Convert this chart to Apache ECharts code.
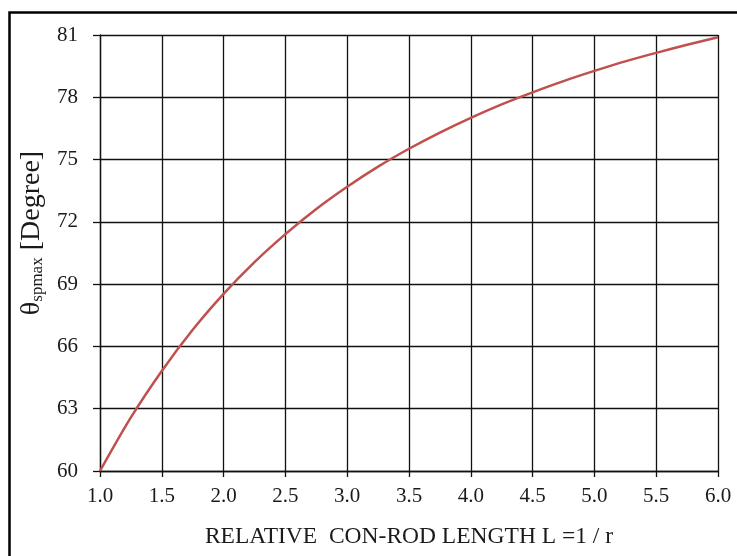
<!DOCTYPE html>
<html>
<head>
<meta charset="utf-8">
<script src="https://cdn.jsdelivr.net/npm/echarts@6/dist/echarts.min.js"></script>
<style>
  html, body { margin: 0; padding: 0; background: #fff; }
  #chart { width: 737px; height: 556px; }
</style>
</head>
<body>
<div id="chart"></div>
<script>
// Relative con-rod length L = l / r
const rodLength = [1.0, 1.25, 1.5, 1.75, 2.0, 2.25, 2.5, 2.75, 3.0, 3.25, 3.5,
                   3.75, 4.0, 4.25, 4.5, 4.75, 5.0, 5.25, 5.5, 5.75, 6.0];
// Crank angle of maximum piston speed, degrees
const thetaSpMax = [60.0, 62.58, 64.82, 66.80, 68.53, 70.06, 71.41, 72.62, 73.69, 74.66, 75.52,
                    76.30, 77.01, 77.66, 78.24, 78.78, 79.27, 79.73, 80.14, 80.53, 80.89];

const xTicks = { min: 1.0, max: 6.0, step: 0.5 };
const yTicks = { min: 60, max: 81, step: 3 };

const serif = '"Liberation Serif", "Times New Roman", serif';
const ink = '#1a1a1a';
const gridInk = '#111';

const chart = echarts.init(document.getElementById('chart'), null, { renderer: 'canvas' });

chart.setOption({
  animation: false,
  backgroundColor: '#ffffff',
  grid: { left: 100, right: 19, top: 35, bottom: 85, containLabel: false },
  graphic: [{
    type: 'rect',
    left: 7, top: 10,
    shape: { x: 0, y: 0, width: 760, height: 580 },
    style: { fill: 'none', stroke: '#000', lineWidth: 2.5 },
    silent: true
  }],
  xAxis: {
    type: 'value',
    min: xTicks.min, max: xTicks.max, interval: xTicks.step,
    name: 'RELATIVE  CON-ROD LENGTH L =1 / r',
    nameLocation: 'middle',
    nameGap: 54,
    nameTextStyle: { fontFamily: serif, fontSize: 23.5, color: ink },
    axisLine: { show: true, lineStyle: { color: gridInk, width: 1.3 } },
    axisTick: { show: true, inside: false, length: 6, lineStyle: { color: gridInk, width: 1.3 } },
    axisLabel: {
      margin: 15, fontFamily: serif, fontSize: 21, color: ink,
      formatter: v => v.toFixed(1)
    },
    splitLine: { show: true, lineStyle: { color: gridInk, width: 1.3 } }
  },
  yAxis: {
    type: 'value',
    min: yTicks.min, max: yTicks.max, interval: yTicks.step,
    name: '{t|θ}{s|spmax}{t| [Degree]}',
    nameLocation: 'middle',
    nameRotate: 90,
    nameGap: 48,
    nameTextStyle: {
      fontFamily: serif, fontSize: 28, color: ink,
      padding: [0, 0, 0, 40],
      rich: {
        t: { fontFamily: serif, fontSize: 28, color: ink, lineHeight: 32, verticalAlign: 'middle' },
        s: { fontFamily: serif, fontSize: 17, color: ink, lineHeight: 32, padding: [12, 0, 0, 0], verticalAlign: 'middle' }
      }
    },
    axisLine: { show: true, lineStyle: { color: gridInk, width: 1.3 } },
    axisTick: { show: true, inside: false, length: 7, lineStyle: { color: gridInk, width: 1.3 } },
    axisLabel: { margin: 22, fontFamily: serif, fontSize: 21, color: ink },
    splitLine: { show: true, lineStyle: { color: gridInk, width: 1.3 } }
  },
  series: [{
    type: 'line',
    data: rodLength.map((x, i) => [x, thetaSpMax[i]]),
    smooth: 0.3,
    showSymbol: false,
    lineStyle: { color: '#c0504d', width: 2.5 },
    clip: false
  }]
});
</script>
</body>
</html>
